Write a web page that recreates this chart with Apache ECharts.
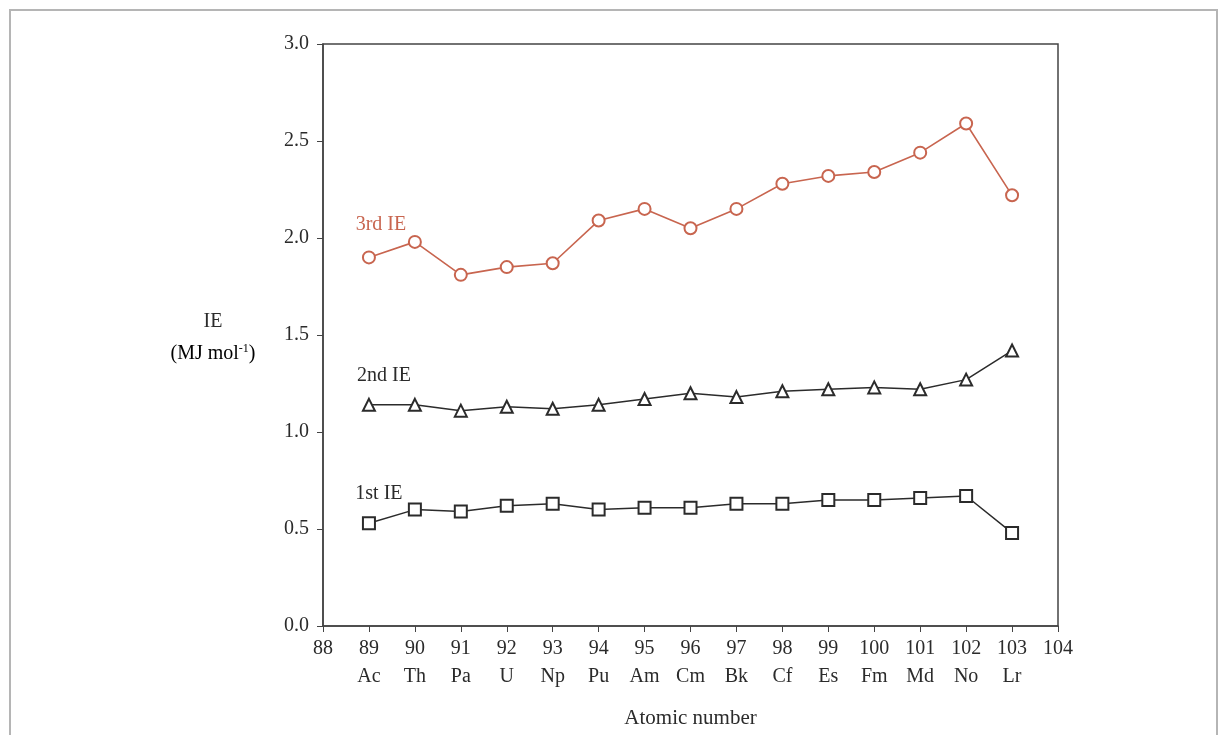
<!DOCTYPE html>
<html>
<head>
<meta charset="utf-8">
<script src="https://cdn.jsdelivr.net/npm/echarts@6/dist/echarts.min.js"></script>
<style>
  html, body { margin: 0; padding: 0; background: #fff; }
  #ie-chart { width: 1220px; height: 735px; }
</style>
</head>
<body>
<div id="ie-chart"></div>
<script>
// atomic numbers and element symbols (actinides)
var atomicNumbers = [89, 90, 91, 92, 93, 94, 95, 96, 97, 98, 99, 100, 101, 102, 103];
var elementSymbols = ["Ac", "Th", "Pa", "U", "Np", "Pu", "Am", "Cm", "Bk", "Cf", "Es", "Fm", "Md", "No", "Lr"];

// ionisation energies, MJ/mol
var ie1 = [0.53, 0.60, 0.59, 0.62, 0.63, 0.60, 0.61, 0.61, 0.63, 0.63, 0.65, 0.65, 0.66, 0.67, 0.48];
var ie2 = [1.14, 1.14, 1.11, 1.13, 1.12, 1.14, 1.17, 1.20, 1.18, 1.21, 1.22, 1.23, 1.22, 1.27, 1.42];
var ie3 = [1.90, 1.98, 1.81, 1.85, 1.87, 2.09, 2.15, 2.05, 2.15, 2.28, 2.32, 2.34, 2.44, 2.59, 2.22];

var serif = "Liberation Serif";
var red = "#c8654f";
var dark = "#2b2b2b";

function pairs(vals) {
  return atomicNumbers.map(function (n, i) { return [n, vals[i]]; });
}

// label on the first point carries the series name
function withNameLabel(vals, name, color, offset) {
  var d = pairs(vals);
  d[0] = {
    value: d[0],
    label: {
      show: true,
      formatter: name,
      position: "top",
      distance: 0,
      offset: offset,
      color: color,
      fontFamily: serif,
      fontSize: 20
    }
  };
  return d;
}

var chart = echarts.init(document.getElementById("ie-chart"));

var option = {
  animation: false,
  backgroundColor: "#fff",
  grid: {
    left: 323,
    right: 162,
    top: 44,
    bottom: 109,
    show: true,
    borderColor: "#444",
    borderWidth: 1.5,
    backgroundColor: "transparent"
  },
  xAxis: {
    type: "value",
    min: 88,
    max: 104,
    interval: 1,
    name: "Atomic number",
    nameLocation: "middle",
    nameGap: 82,
    nameTextStyle: { color: dark, fontFamily: serif, fontSize: 21 },
    axisLine: { lineStyle: { color: "#444", width: 1.5 } },
    axisTick: { show: true, length: 6, lineStyle: { color: "#444" } },
    splitLine: { show: false },
    axisLabel: {
      color: dark,
      fontFamily: serif,
      fontSize: 20,
      lineHeight: 28,
      margin: 9,
      formatter: function (v) {
        var i = atomicNumbers.indexOf(v);
        return i >= 0 ? v + "\n" + elementSymbols[i] : v + "\n ";
      }
    }
  },
  yAxis: {
    type: "value",
    min: 0,
    max: 3,
    interval: 0.5,
    axisLine: { show: true, lineStyle: { color: "#444", width: 1.5 } },
    axisTick: { show: true, length: 6, lineStyle: { color: "#444" } },
    splitLine: { show: false },
    axisLabel: {
      color: dark,
      fontFamily: serif,
      fontSize: 20,
      margin: 14,
      formatter: function (v) { return v.toFixed(1); }
    }
  },
  graphic: [
    {
      type: "rect",
      silent: true,
      shape: { x: 10, y: 10, width: 1207, height: 735 },
      style: { fill: "none", stroke: "#b5b5b5", lineWidth: 2 }
    },
    {
      type: "text",
      x: 213,
      y: 322,
      style: {
        text: "IE",
        align: "center",
        verticalAlign: "middle",
        fontFamily: serif,
        fontSize: 20,
        fill: dark
      }
    },
    {
      type: "text",
      x: 213,
      y: 354,
      style: {
        text: "{a|(MJ mol}{s|-1}{a|)}",
        align: "center",
        verticalAlign: "middle",
        rich: {
          a: { fontFamily: serif, fontSize: 20, color: dark },
          s: { fontFamily: serif, fontSize: 12, color: dark, padding: [0, 0, 10, 0] }
        }
      }
    }
  ],
  series: [
    {
      name: "3rd IE",
      type: "line",
      data: withNameLabel(ie3, "3rd IE", red, [12, -16]),
      symbol: "emptyCircle",
      symbolSize: 12,
      lineStyle: { color: red, width: 1.6 },
      itemStyle: { color: red, borderWidth: 1.6 }
    },
    {
      name: "2nd IE",
      type: "line",
      data: withNameLabel(ie2, "2nd IE", dark, [15, -12]),
      symbol: "emptyTriangle",
      symbolSize: 12,
      lineStyle: { color: dark, width: 1.5 },
      itemStyle: { color: dark, borderWidth: 1.6 }
    },
    {
      name: "1st IE",
      type: "line",
      data: withNameLabel(ie1, "1st IE", dark, [10, -12]),
      symbol: "emptyRect",
      symbolSize: 12,
      lineStyle: { color: dark, width: 1.5 },
      itemStyle: { color: dark, borderWidth: 1.6 }
    }
  ]
};

chart.setOption(option);
window.addEventListener("resize", function () {
  chart.resize();
});
</script>
</body>
</html>
